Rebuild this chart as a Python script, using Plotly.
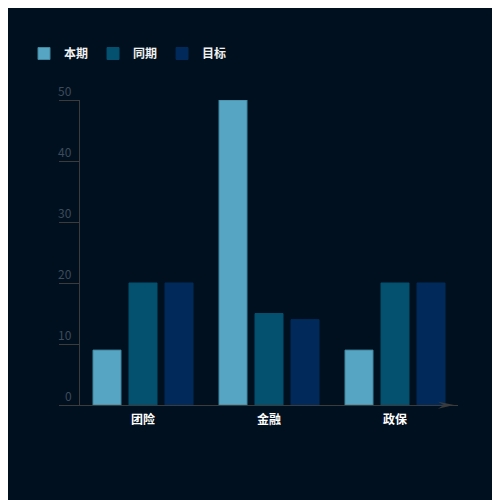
import plotly.graph_objects as go

categories = ["团险", "金融", "政保"]
series_names = ["本期", "同期", "目标"]
current_vals = [9, 50, 9]
last_vals = [20, 15, 20]
target_vals = [20, 14, 20]
y_ticks = [0, 10, 20, 30, 40, 50]

colors = ["#56a6c3", "#03506f", "#012a5b"]
line_colors = ["#3f869f", "#03506f", "#012a5b"]
BG = "#01101f"
AXIS = "#3b3b3b"
FONT = "Noto Sans CJK SC"

fig = go.Figure()
for name, vals, c, lc in zip(series_names, [current_vals, last_vals, target_vals], colors, line_colors):
    fig.add_trace(go.Bar(x=categories, y=vals, name=name,
                         marker=dict(color=c, line=dict(color=lc, width=1))))

# y tick labels drawn above tick lines
for t in y_ticks:
    fig.add_annotation(x=0, xref="paper", y=t, yref="y", text=str(t),
                       showarrow=False, xanchor="right", yanchor="middle",
                       xshift=-6, yshift=10,
                       font=dict(family=FONT, size=12, color="#3c4b5b"))

# arrow at end of x axis
fig.add_shape(type="path", xref="paper", yref="paper",
              path="M 0.947 0.011 L 0.99 0 L 0.947 -0.012 L 0.962 0 Z",
              fillcolor=AXIS, line=dict(color=AXIS, width=0))

fig.update_layout(
    width=500, height=500,
    paper_bgcolor=BG, plot_bgcolor=BG,
    margin=dict(l=72, r=50, t=92, b=103),
    barmode="group", bargap=0.143, bargroupgap=0.222,
    showlegend=True,
    legend=dict(orientation="h", x=0.032, xanchor="left", xref="container",
                y=0.938, yanchor="top", yref="container",
                font=dict(family=FONT, size=12, color="#f0f0f0", weight="bold"),
                itemwidth=30, bgcolor="rgba(0,0,0,0)"),
    font=dict(family=FONT),
    xaxis=dict(showline=True, linecolor=AXIS, linewidth=1, showgrid=False,
               ticks="", ticklabelstandoff=4,
               tickfont=dict(family=FONT, size=12, color="#ffffff", weight="bold"),
               zeroline=False),
    yaxis=dict(range=[0, 50], showline=True, linecolor=AXIS, linewidth=1,
               showgrid=False, zeroline=False, ticks="outside", ticklen=20,
               tickcolor=AXIS, tickwidth=1, tickvals=y_ticks, showticklabels=False),
)

fig.write_html("out.html")
